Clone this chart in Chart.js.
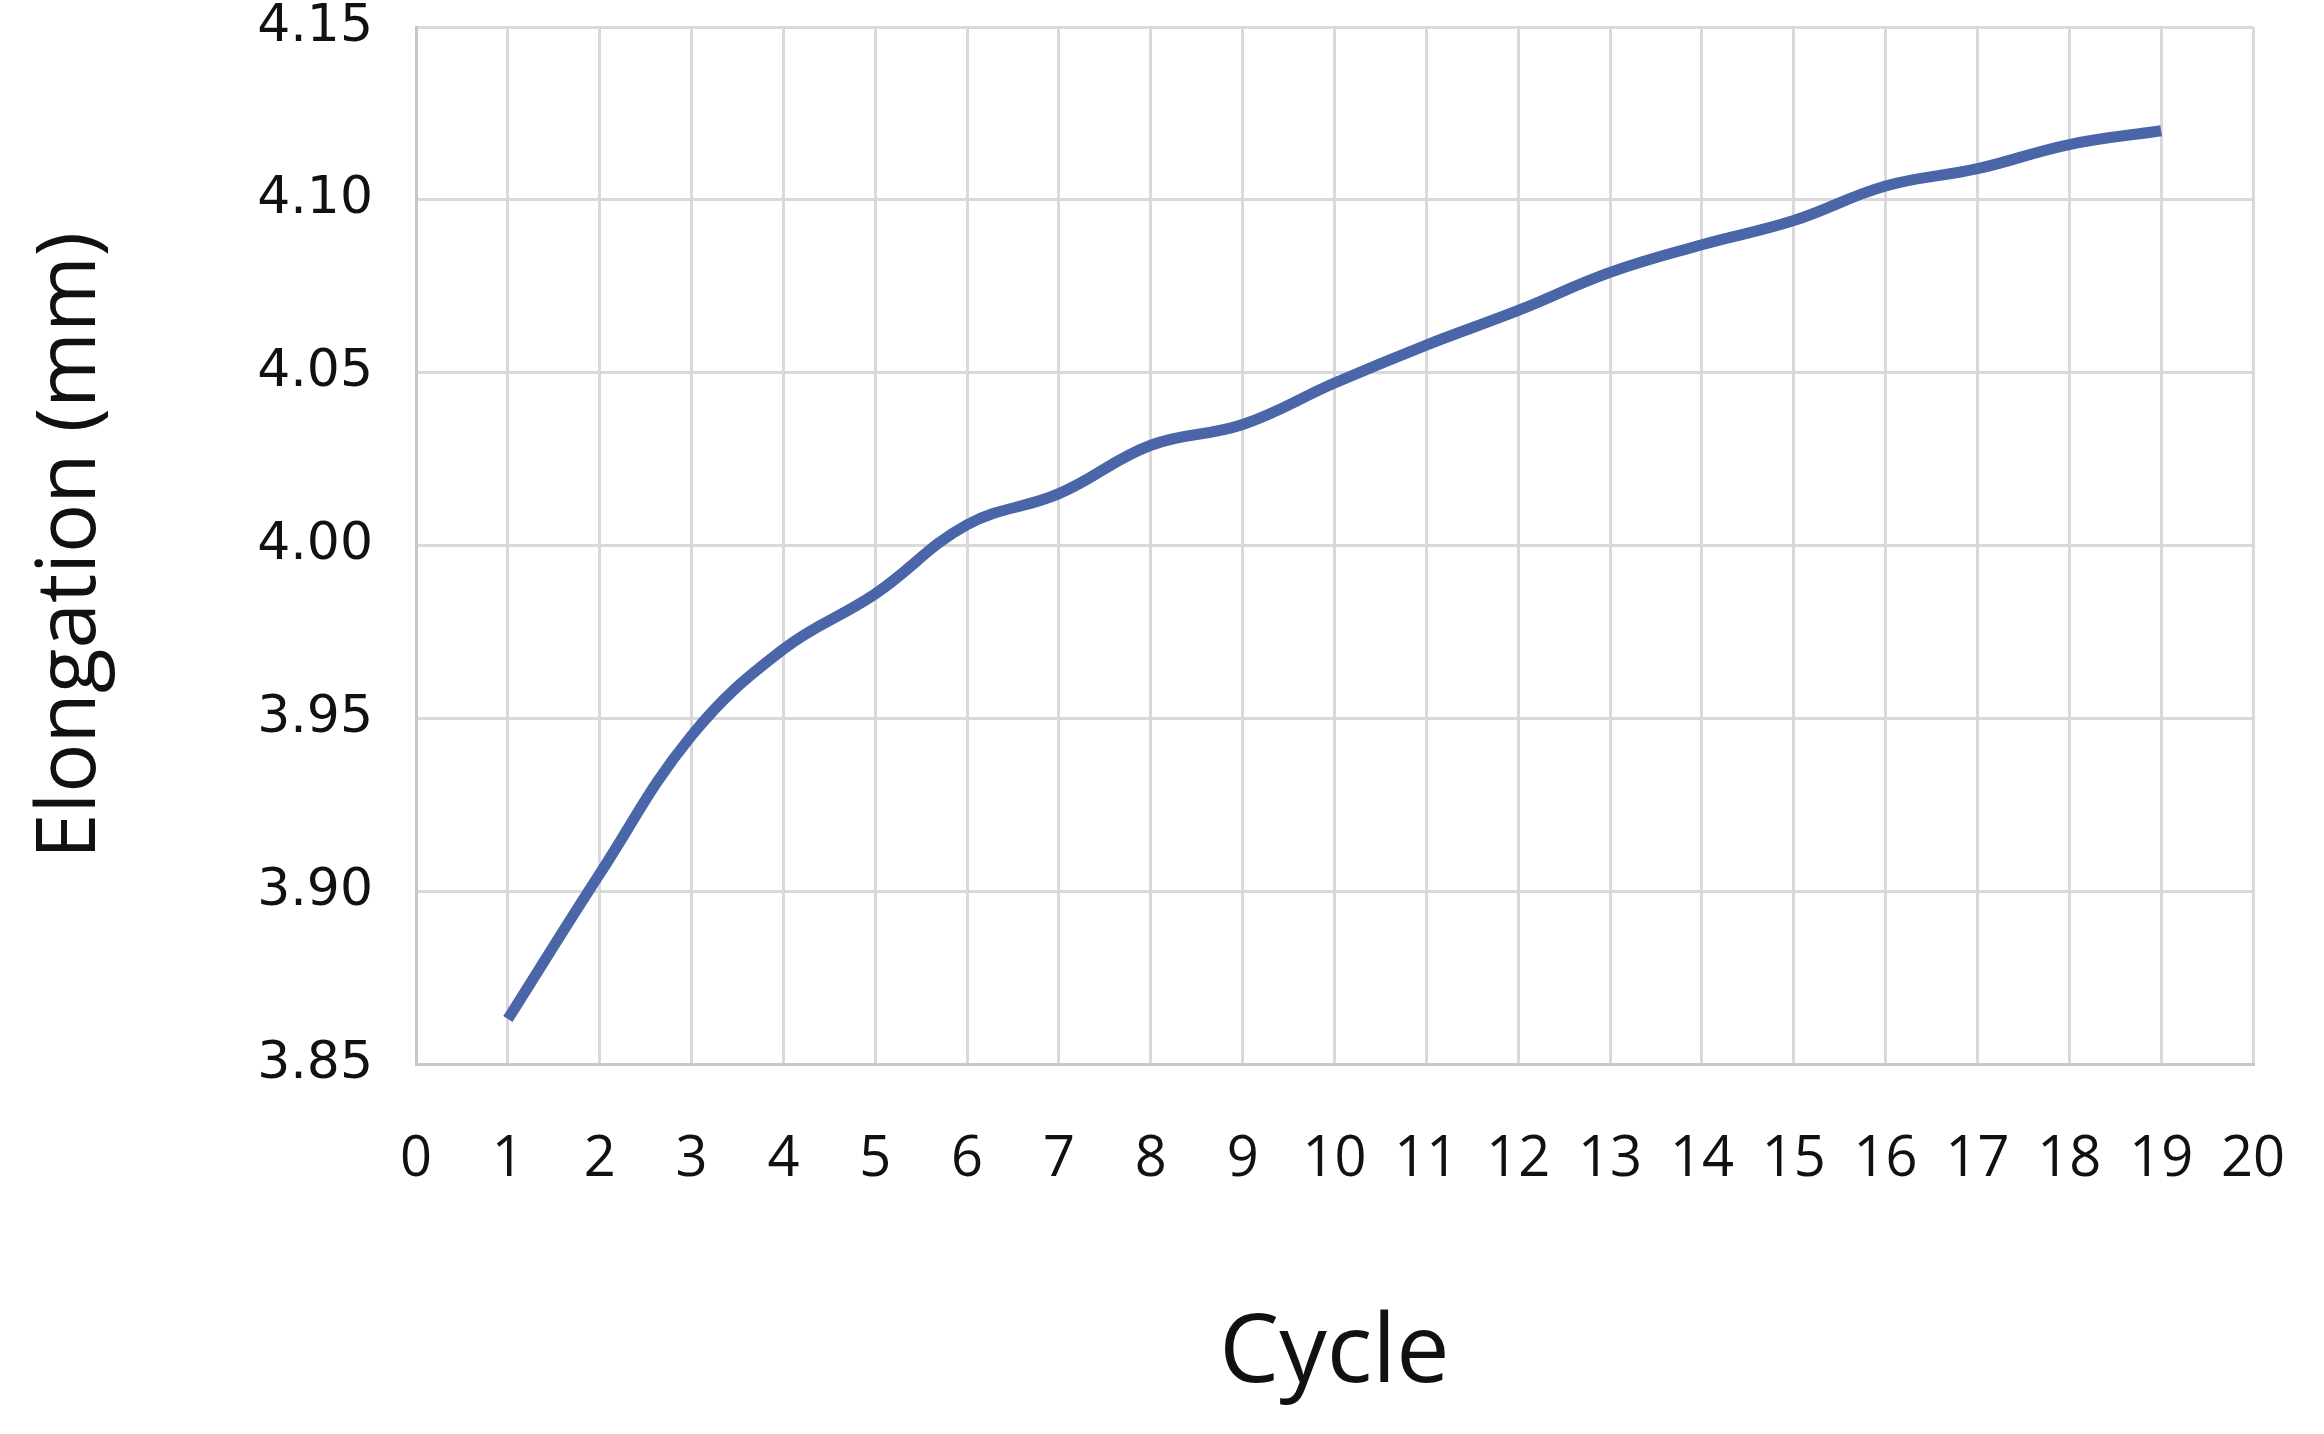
<!DOCTYPE html>
<html>
<head>
<meta charset="utf-8">
<script src="https://cdn.jsdelivr.net/npm/chart.js@4"></script>
<style>
  html, body { margin: 0; padding: 0; background: #fff; }
  #wrap { width: 2324px; height: 1434px; }
</style>
</head>
<body>
<div id="wrap"><canvas id="myChart"></canvas></div>
<script>
// values
const cycles = [1, 2, 3, 4, 5, 6, 7, 8, 9, 10, 11, 12, 13, 14, 15, 16, 17, 18, 19];
const elongation = [3.863, 3.905, 3.945, 3.970, 3.986, 4.006, 4.015, 4.029, 4.035, 4.047,
                    4.058, 4.068, 4.079, 4.087, 4.094, 4.104, 4.109, 4.116, 4.120];
const yTicks = [3.85, 3.90, 3.95, 4.00, 4.05, 4.10, 4.15];
const xTicks = [0, 1, 2, 3, 4, 5, 6, 7, 8, 9, 10, 11, 12, 13, 14, 15, 16, 17, 18, 19, 20];

document.addEventListener('DOMContentLoaded', () => {
    const ctx = document.getElementById('myChart');

    let points = [];
    for (let i = 0; i < cycles.length; i++) {
        points.push({ x: cycles[i], y: elongation[i] });
    }

    const gridColor = '#d9d9d9';

    new Chart(ctx, {
        type: 'line',
        data: {
            datasets: [{
                label: 'Elongation',
                data: points,
                borderColor: '#4a65a8',
                borderWidth: 11,
                pointRadius: 0,
                tension: 0.4,
                fill: false,
            }]
        },
        options: {
            responsive: true,
            maintainAspectRatio: false,
            animation: false,
            layout: {
                padding: { top: 27, right: 71, left: 0, bottom: 0 }
            },
            plugins: {
                legend: { display: false },
                tooltip: { enabled: false }
            },
            scales: {
                x: {
                    type: 'linear',
                    min: 0,
                    max: 20,
                    afterBuildTicks: (axis) => {
                        axis.ticks = xTicks.map(v => ({ value: v }));
                    },
                    afterFit: (axis) => {
                        axis.height = 370;
                        axis.paddingLeft = 0;
                        axis.paddingRight = 0;
                    },
                    grid: { color: gridColor, lineWidth: 3, drawTicks: false },
                    border: { color: '#c8c8c8', width: 3 },
                    ticks: {
                        padding: 62,
                        color: '#111',
                        font: { family: 'Open Sans', size: 56 },
                        maxRotation: 0,
                        autoSkip: false,
                    },
                    title: {
                        display: true,
                        text: 'Cycle',
                        color: '#111',
                        font: { family: 'Open Sans', size: 95 },
                        padding: { top: 0, bottom: 22 }
                    }
                },
                y: {
                    min: 3.85,
                    max: 4.15,
                    afterBuildTicks: (axis) => {
                        axis.ticks = yTicks.map(v => ({ value: v }));
                    },
                    afterFit: (axis) => {
                        axis.width = 416;
                        axis.paddingTop = 0;
                        axis.paddingBottom = 0;
                    },
                    grid: { color: gridColor, lineWidth: 3, drawTicks: false },
                    border: { color: '#c8c8c8', width: 3 },
                    ticks: {
                        padding: 43,
                        color: '#111',
                        font: { family: 'DejaVu Sans', size: 52 },
                        callback: (v) => Number(v).toFixed(2),
                    },
                    title: {
                        display: true,
                        text: 'Elongation (mm)',
                        color: '#111',
                        font: { family: 'Open Sans', size: 82 },
                        padding: { top: 22, bottom: 0 }
                    }
                }
            }
        }
    });
});
</script>
</body>
</html>
